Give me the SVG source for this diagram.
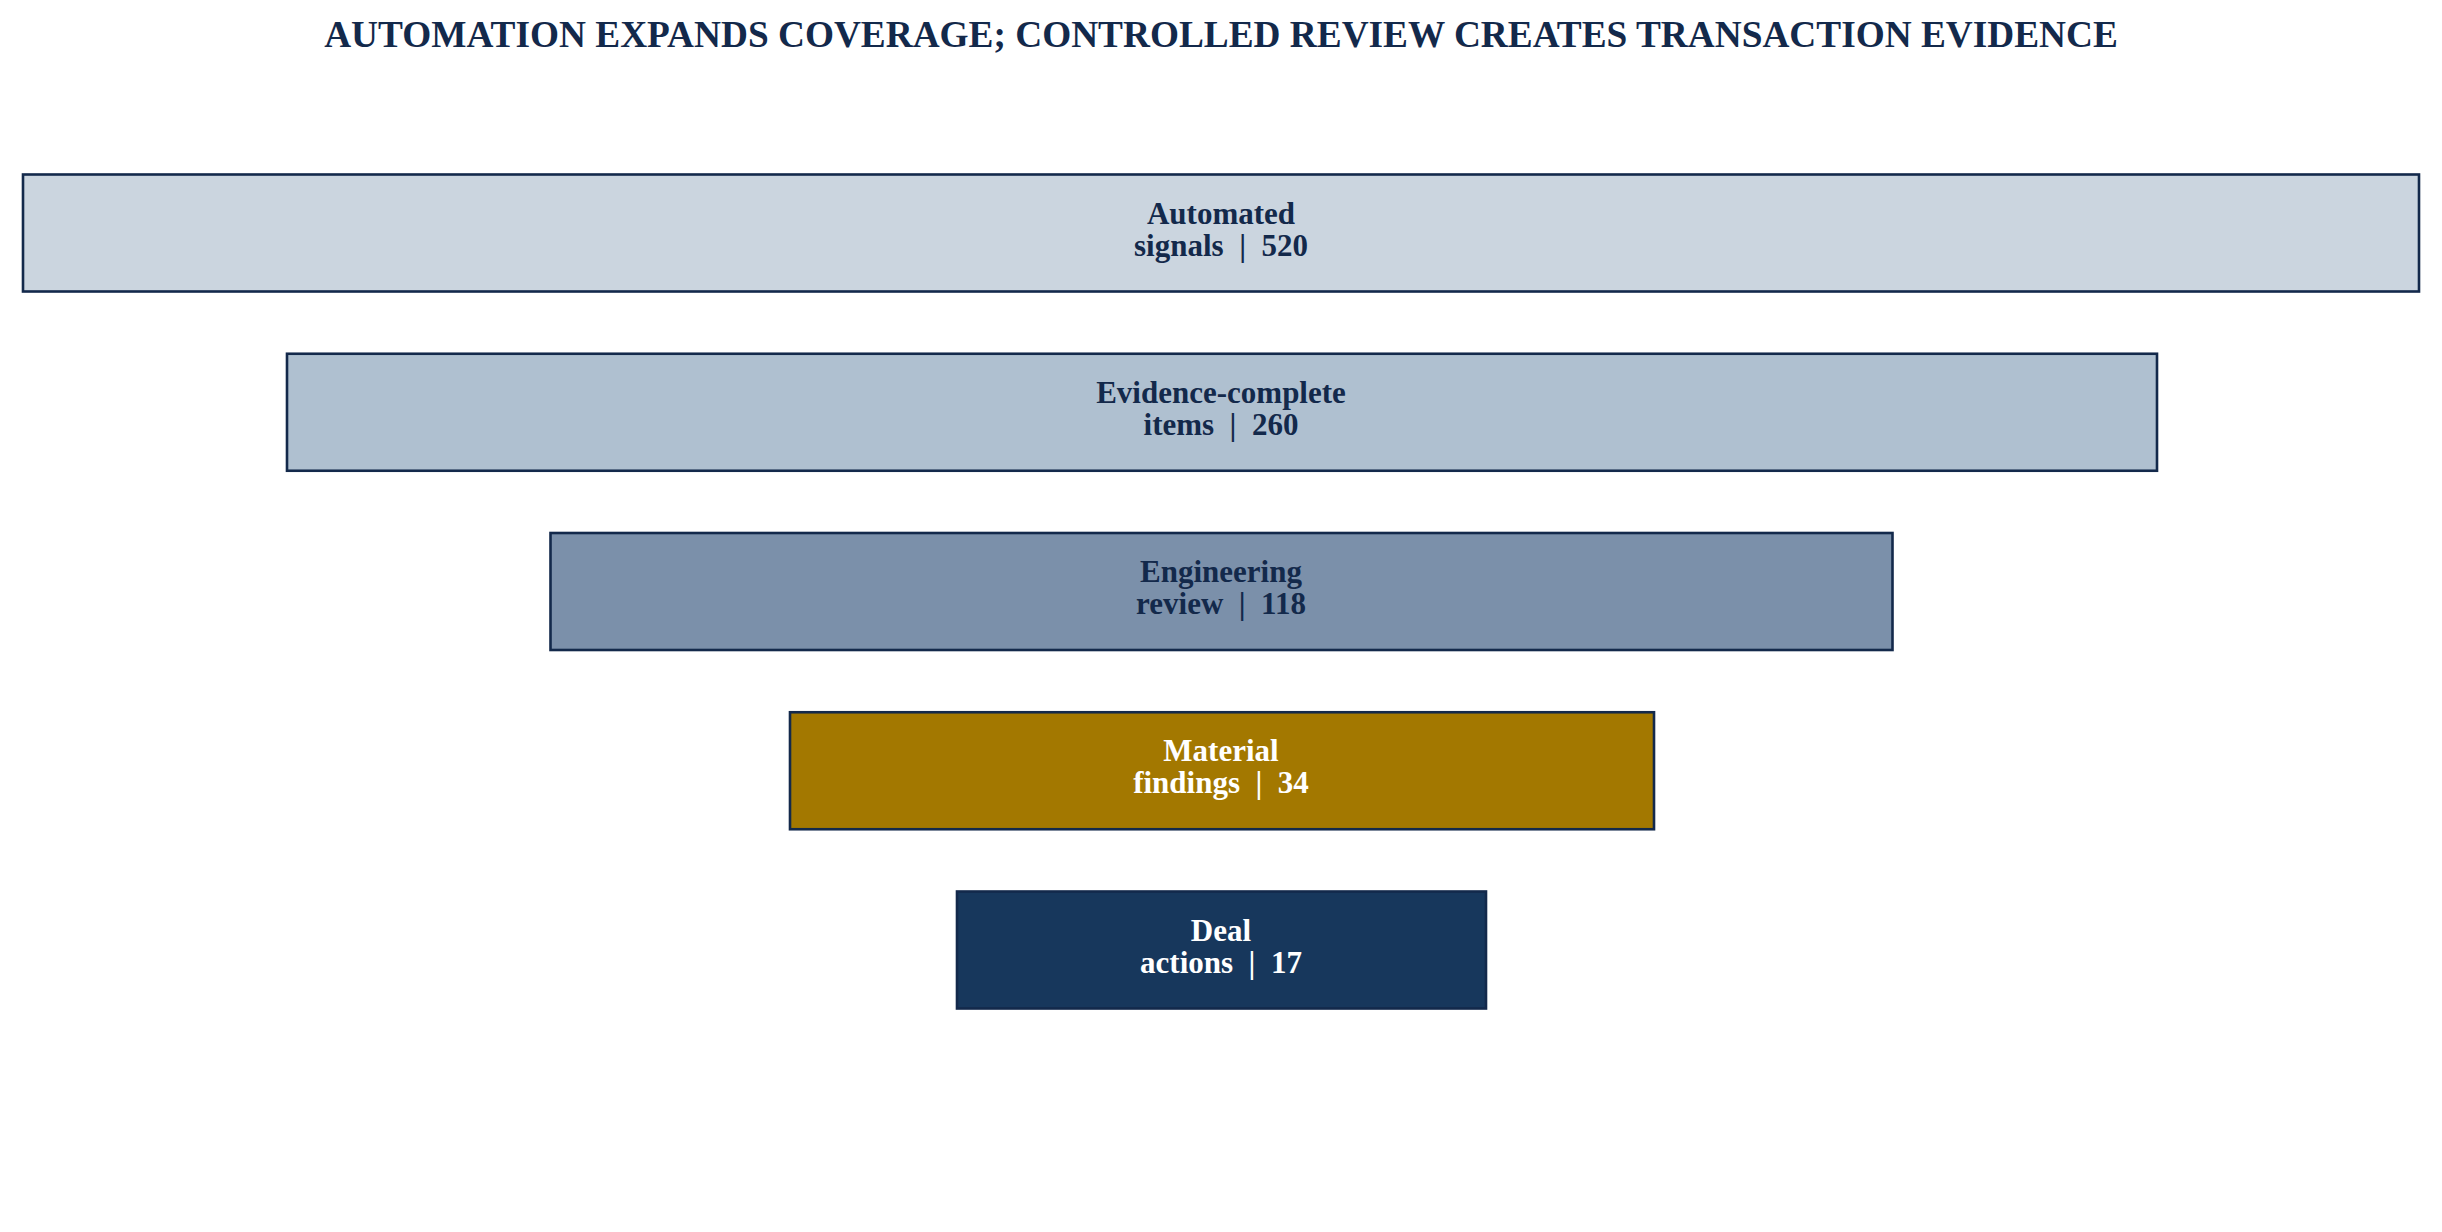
<svg xmlns="http://www.w3.org/2000/svg" width="2442" height="1232" viewBox="0 0 2442 1232">
  <style>
    .title { font-family: "Liberation Serif", "Times New Roman", serif; font-weight: bold; font-size: 37.3px; fill: #13294b; text-anchor: middle; }
    .box { stroke: #13294b; stroke-width: 2.6; }
    .lbl { font-family: "Liberation Serif", "Times New Roman", serif; font-weight: bold; font-size: 31px; text-anchor: middle; white-space: pre; }
    .dark { fill: #13294b; }
    .light { fill: #ffffff; }
  </style>
  <rect x="0" y="0" width="2442" height="1232" fill="#ffffff"/>
  <text class="title" x="1221" y="47">AUTOMATION EXPANDS COVERAGE; CONTROLLED REVIEW CREATES TRANSACTION EVIDENCE</text>
  <g id="connectors"></g>
  <g id="node-automated-signals">
    <rect class="box" x="23" y="174.5" width="2396" height="117" fill="#cbd5df"/>
    <text class="lbl dark" x="1221" y="223.5" xml:space="preserve">Automated</text>
    <text class="lbl dark" x="1221" y="255.5" xml:space="preserve">signals  |  520</text>
  </g>
  <g id="node-evidence-complete">
    <rect class="box" x="287" y="353.75" width="1870" height="117" fill="#afc0d0"/>
    <text class="lbl dark" x="1221" y="402.75" xml:space="preserve">Evidence-complete</text>
    <text class="lbl dark" x="1221" y="434.75" xml:space="preserve">items  |  260</text>
  </g>
  <g id="node-engineering-review">
    <rect class="box" x="550.5" y="533" width="1342" height="117" fill="#7b90aa"/>
    <text class="lbl dark" x="1221" y="582" xml:space="preserve">Engineering</text>
    <text class="lbl dark" x="1221" y="614" xml:space="preserve">review  |  118</text>
  </g>
  <g id="node-material-findings">
    <rect class="box" x="790" y="712.25" width="864" height="117" fill="#a37800"/>
    <text class="lbl light" x="1221" y="761.25" xml:space="preserve">Material</text>
    <text class="lbl light" x="1221" y="793.25" xml:space="preserve">findings  |  34</text>
  </g>
  <g id="node-deal-actions">
    <rect class="box" x="957" y="891.5" width="529" height="117" fill="#17375c"/>
    <text class="lbl light" x="1221" y="940.5" xml:space="preserve">Deal</text>
    <text class="lbl light" x="1221" y="972.5" xml:space="preserve">actions  |  17</text>
  </g>
</svg>
